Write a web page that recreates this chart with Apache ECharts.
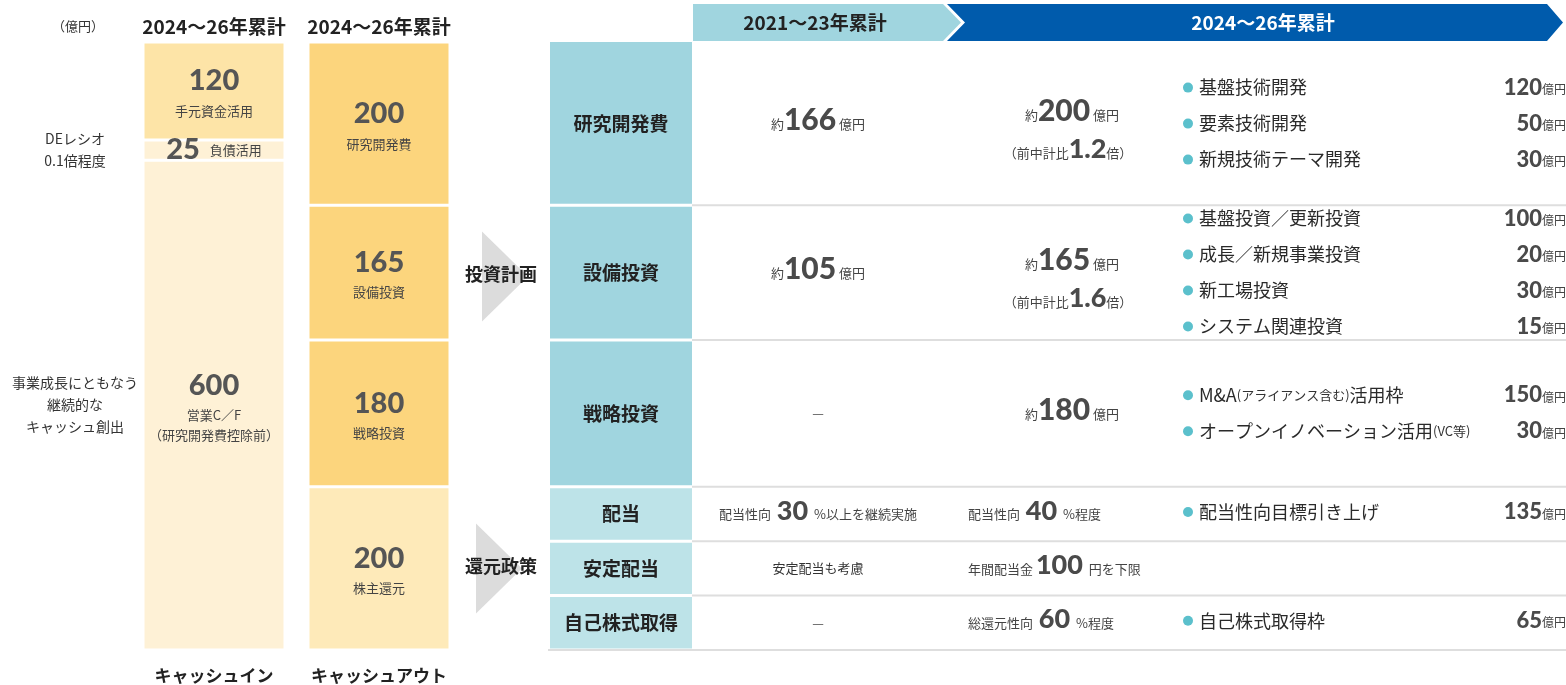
<!DOCTYPE html>
<html>
<head>
<meta charset="utf-8">
<script src="https://cdn.jsdelivr.net/npm/echarts@6/dist/echarts.min.js"></script>
<style>
  html, body { margin: 0; padding: 0; background: #fff; }
  #chart { width: 1566px; height: 685px; }
</style>
</head>
<body>
<div id="chart"></div>
<script>
// ---- data (億円) ----
const categories = ['キャッシュイン', 'キャッシュアウト'];
const periodLabel = '2024～26年累計';
const cashInValues = [120, 25, 600];
const cashInNames = ['手元資金活用', '負債活用', '営業C／F\n（研究開発費控除前）'];
const cashOutValues = [200, 165, 180, 200];
const cashOutNames = ['研究開発費', '設備投資', '戦略投資', '株主還元'];

const headerPrev = '2021～23年累計';
const headerNew = '2024～26年累計';
const investLabels = ['研究開発費', '設備投資', '戦略投資'];
const returnLabels = ['配当', '安定配当', '自己株式取得'];
const prevInvest = [166, 105, null];
const newInvest = [200, 165, 180];
const ratioVsPrev = ['1.2', '1.6', null];
const rdItems = [['基盤技術開発', 120], ['要素技術開発', 50], ['新規技術テーマ開発', 30]];
const capexItems = [['基盤投資／更新投資', 100], ['成長／新規事業投資', 20], ['新工場投資', 30], ['システム関連投資', 15]];
const strategicItems = [['M&A{p|(アライアンス含む)}活用枠', 150], ['オープンイノベーション活用{p|(VC等)}', 30]];
const payoutPrev = 30;
const payoutNew = 40;
const minDividend = 100;
const totalReturnRatio = 60;
const dividendItems = [['配当性向目標引き上げ', 135]];
const buybackItems = [['自己株式取得枠', 65]];

// ---- styles ----
const JP = '"Noto Sans CJK JP", "Noto Sans", sans-serif';
const NUM = 'Lato, "Noto Sans CJK JP", sans-serif';
const cashInColors = ['#FDE4A7', '#FEF1D6', '#FEF1D6'];
const cashOutColors = ['#FCD57D', '#FCD57D', '#FCD57D', '#FEEAB9'];
const investCell = '#A0D5DF';
const returnCell = '#BDE3E8';
const dotColor = '#5BC0CC';

const total = cashInValues.reduce((a, b) => a + b, 0);
const chart = echarts.init(document.getElementById('chart'));

const barRich = {
  v: { fontFamily: NUM, fontWeight: 900, fontSize: 29, color: '#555', lineHeight: 40 },
  s: { fontFamily: JP, fontSize: 13, color: '#444', lineHeight: 20 }
};

function barLabel(value, name, inline) {
  const lines = name.split('\n').map(t => '{s|' + t + '}');
  const text = inline ? '{v|' + value + '}   ' + lines.join('') : ['{v|' + value + '}'].concat(lines).join('\n');
  return { show: true, position: 'inside', formatter: text, rich: barRich };
}

const series = [];
cashInValues.forEach((v, i) => {
  series.push({
    type: 'bar', stack: 'total', barWidth: 142,
    data: [v, '-'],
    itemStyle: { color: cashInColors[i], borderColor: '#fff', borderWidth: 1.5 },
    label: barLabel(v, cashInNames[i], v < 50)
  });
});
cashOutValues.forEach((v, i) => {
  series.push({
    type: 'bar', stack: 'total', barWidth: 142,
    data: ['-', v],
    itemStyle: { color: cashOutColors[i], borderColor: '#fff', borderWidth: 1.5 },
    label: barLabel(v, cashOutNames[i], false)
  });
});

chart.setOption({
  animation: false,
  grid: { left: 131.5, width: 330, top: 42, bottom: 35 },
  xAxis: [
    { type: 'category', data: categories, position: 'bottom',
      axisLine: { show: false }, axisTick: { show: false },
      axisLabel: { interval: 0, fontFamily: JP, fontSize: 17, fontWeight: 'bold', color: '#222', margin: 17 } },
    { type: 'category', data: [periodLabel, periodLabel], position: 'top',
      axisLine: { show: false }, axisTick: { show: false },
      axisLabel: { interval: 0, fontFamily: JP, fontSize: 19, fontWeight: 'bold', color: '#222', margin: 6 } }
  ],
  yAxis: { type: 'value', min: 0, max: total, inverse: true, show: false, splitLine: { show: false } },
  series: series
});

// ---- table, laid out on the same value scale ----
const py = v => chart.convertToPixel({ gridIndex: 0 }, [0, v])[1];

const g = [];
function text(x, y, str, opt) {
  g.push({ type: 'text', x: x, y: y, silent: true, z: 10,
    style: Object.assign({ text: str, align: 'center', verticalAlign: 'middle', fill: '#333',
      fontFamily: JP, fontSize: 14 }, opt || {}) });
}
function rect(x, y, w, h, color, z) {
  g.push({ type: 'rect', silent: true, z: z || 1, shape: { x: x, y: y, width: w, height: h }, style: { fill: color } });
}
function poly(points, color) {
  g.push({ type: 'polygon', silent: true, z: 1, shape: { points: points }, style: { fill: color } });
}

const richAmount = {
  a: { fontFamily: JP, fontSize: 13, fill: '#444', verticalAlign: 'bottom', lineHeight: 30, padding: [0, 0, 5, 0] },
  n: { fontFamily: NUM, fontWeight: 900, fontSize: 30, fill: '#4a4a4a', lineHeight: 30 },
  m: { fontFamily: NUM, fontWeight: 900, fontSize: 27, fill: '#4a4a4a', lineHeight: 30 },
  b: { fontFamily: NUM, fontWeight: 900, fontSize: 22, fill: '#4a4a4a', lineHeight: 24 },
  u: { fontFamily: JP, fontSize: 12, fill: '#444', verticalAlign: 'bottom', lineHeight: 24, padding: [0, 0, 4, 0] },
  p: { fontFamily: JP, fontSize: 13, fill: '#333' }
};

// left notes
text(78, 26, '（億円）', { fontSize: 13, fill: '#333' });
text(75, py(cashInValues[0] + cashInValues[1] / 2), 'DEレシオ\n0.1倍程度', { fontSize: 14, lineHeight: 22, fill: '#333' });
text(75, py(cashInValues[0] + cashInValues[1] + cashInValues[2] / 2), '事業成長にともなう\n継続的な\nキャッシュ創出',
  { fontSize: 14, lineHeight: 22, fill: '#333' });

// header chevrons
poly([[693, 4], [943, 4], [961, 22.5], [943, 41], [693, 41]], '#A0D5DF');
poly([[947, 4], [1547, 4], [1563, 22.5], [1547, 41], [947, 41], [965, 22.5]], '#005BAC');
text(815, 23, headerPrev, { fontSize: 19, fontWeight: 'bold', fill: '#222' });
text(1263, 23, headerNew, { fontSize: 19, fontWeight: 'bold', fill: '#fff' });

// row bounds
const bounds = [0];
cashOutValues.forEach(v => bounds.push(bounds[bounds.length - 1] + v));
const rowY = [py(bounds[0]), py(bounds[1]), py(bounds[2]), py(bounds[3])];
const retTop = py(bounds[3]), retBot = py(bounds[4]);
const retH = (retBot - retTop) / 3;
for (let i = 1; i <= 3; i++) rowY.push(retTop + retH * i);
// rowY has 7 bounds for 6 rows

const X0 = 550, X1 = 692, XR = 1566;
const allLabels = investLabels.concat(returnLabels);
allLabels.forEach((lab, i) => {
  const top = rowY[i] + (i === 0 ? 0 : 1.5), bot = rowY[i + 1] - 1.5;
  rect(X0, top, X1 - X0, bot - top, i < 3 ? investCell : returnCell);
  text((X0 + X1) / 2, (rowY[i] + rowY[i + 1]) / 2, lab, { fontSize: 19, fontWeight: 'bold', fill: '#222' });
  rect(i === 5 ? X0 - 2 : X1, rowY[i + 1] - 1, XR - (i === 5 ? X0 - 2 : X1), 2, '#DEDEDE', 2);
});

const mid = i => (rowY[i] + rowY[i + 1]) / 2;
const C2 = 818, C3 = 1072, BX = 1188;

function bulletList(items, cy) {
  const step = 36;
  const y0 = cy - step * (items.length - 1) / 2;
  items.forEach((it, k) => {
    const y = y0 + step * k;
    g.push({ type: 'circle', silent: true, z: 5, shape: { cx: BX, cy: y, r: 5 }, style: { fill: dotColor } });
    text(BX + 11, y, it[0], { align: 'left', fontSize: 18, fill: '#2a2a2a', rich: richAmount });
    text(XR, y, '{b|' + it[1] + '}{u|億円}', { align: 'right', rich: richAmount });
  });
}

// investment rows
const invItems = [rdItems, capexItems, strategicItems];
for (let i = 0; i < 3; i++) {
  const cy = mid(i);
  if (prevInvest[i] != null) {
    text(C2, cy - 3, '{a|約}{n|' + prevInvest[i] + '}{a| 億円}', { rich: richAmount });
  } else {
    text(C2, cy, '—', { fontSize: 13, fill: '#555' });
  }
  if (ratioVsPrev[i] != null) {
    text(C3, cy - 12, '{a|約}{n|' + newInvest[i] + '}{a| 億円}', { rich: richAmount });
    text(C3 - 4, cy + 26, '{a|（前中計比}{m|' + ratioVsPrev[i] + '}{a|倍）}', { rich: richAmount });
  } else {
    text(C3, cy - 3, '{a|約}{n|' + newInvest[i] + '}{a| 億円}', { rich: richAmount });
  }
  bulletList(invItems[i], cy);
}

// return rows
const L3 = 968;
text(C2, mid(3) - 3, '{a|配当性向  }{m|' + payoutPrev + '}{a|  %以上を継続実施}', { rich: richAmount });
text(L3, mid(3) - 3, '{a|配当性向  }{m|' + payoutNew + '}{a|  %程度}', { align: 'left', rich: richAmount });
bulletList(dividendItems, mid(3) - 2);

text(C2, mid(4), '安定配当も考慮', { fontSize: 13, fill: '#333' });
text(L3, mid(4) - 3, '{a|年間配当金 }{m|' + minDividend + '}{a|  円を下限}', { align: 'left', rich: richAmount });

text(C2, mid(5), '—', { fontSize: 13, fill: '#555' });
text(L3, mid(5) - 3, '{a|総還元性向  }{m|' + totalReturnRatio + '}{a|  %程度}', { align: 'left', rich: richAmount });
bulletList(buybackItems, mid(5) - 2);

// flow arrows
const invC = (rowY[0] + rowY[3]) / 2 + 12;
const retC = (rowY[3] + rowY[6]) / 2;
poly([[482, invC - 45], [528, invC], [482, invC + 45]], '#DCDCDC');
poly([[476, retC - 45], [522, retC], [476, retC + 45]], '#DCDCDC');
text(501, invC - 2, '投資計画', { fontSize: 18, fontWeight: 'bold', fill: '#222' });
text(501, retC - 2, '還元政策', { fontSize: 18, fontWeight: 'bold', fill: '#222' });

chart.setOption({ graphic: { elements: g } });
</script>
</body>
</html>
